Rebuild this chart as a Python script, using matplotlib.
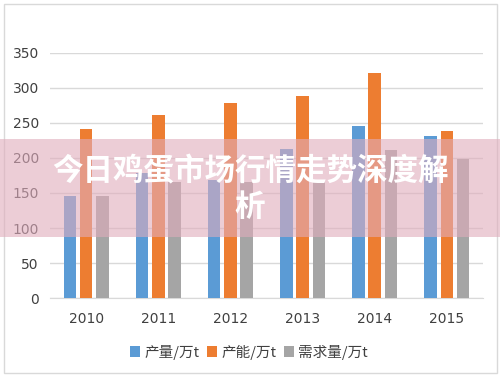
import numpy as np
import matplotlib
matplotlib.use("Agg")
import matplotlib.pyplot as plt
from matplotlib.patches import Rectangle

plt.rcParams['font.family'] = ['Noto Sans CJK SC', 'DejaVu Sans']

years = ["2010", "2011", "2012", "2013", "2014", "2015"]
production = [146, 179, 168, 213, 245, 232]
capacity = [242, 261, 278, 289, 321, 239]
demand = [146, 165, 166, 165, 212, 198]
series_names = ["产量/万t", "产能/万t", "需求量/万t"]
colors = ["#5B9BD5", "#ED7D31", "#A5A5A5"]

fig = plt.figure(figsize=(5, 3.77), dpi=100)
ax = fig.add_axes([0.1, 0.2095, 0.866, 0.65])

x = np.arange(len(years))
w = 0.175
step = 0.225
for i, vals in enumerate([production, capacity, demand]):
    ax.bar(x + (i - 1) * step, vals, width=w, color=colors[i], label=series_names[i], zorder=3)

ax.set_ylim(0, 350)
ax.set_xlim(-0.5, len(years) - 0.5)
ax.set_yticks(range(0, 351, 50))
ax.set_xticks(x)
ax.set_xticklabels(years)
ax.grid(axis='y', color='#D9D9D9', linewidth=1, zorder=0)
for s in ['top', 'right', 'left']:
    ax.spines[s].set_visible(False)
ax.spines['bottom'].set_color('#D9D9D9')
ax.tick_params(length=0, labelsize=10, colors='#404040')
ax.tick_params(axis='x', pad=10)
ax.tick_params(axis='y', pad=8)
for lbl in ax.get_xticklabels() + ax.get_yticklabels():
    lbl.set_fontfamily('DejaVu Sans')

# legend centred under the whole chart, not the axes
fig.legend(loc='center', bbox_to_anchor=(0.498, 1 - 352 / 377), ncol=3,
           frameon=False, fontsize=10.5, handlelength=0.7, handleheight=0.7,
           handletextpad=0.3, columnspacing=0.5, labelcolor='#404040')

# chart frame
fig.add_artist(Rectangle((4 / 500, 4 / 377), 493 / 500, 369 / 377, transform=fig.transFigure,
                         fill=False, edgecolor='#D9D9D9', linewidth=1))

# title banner
fig.add_artist(Rectangle((0, 1 - 237 / 377), 1, 98 / 377, transform=fig.transFigure,
                         facecolor=(224 / 255, 172 / 255, 188 / 255), alpha=0.6,
                         edgecolor='none', zorder=5))
fig.text(0.5, 1 - 189 / 377, "今日鸡蛋市场行情走势深度解\n析", ha='center', va='center',
         multialignment='center', color='white', fontsize=22, fontweight='heavy',
         linespacing=1.15, zorder=6)

fig.savefig("out.png", dpi=100)
